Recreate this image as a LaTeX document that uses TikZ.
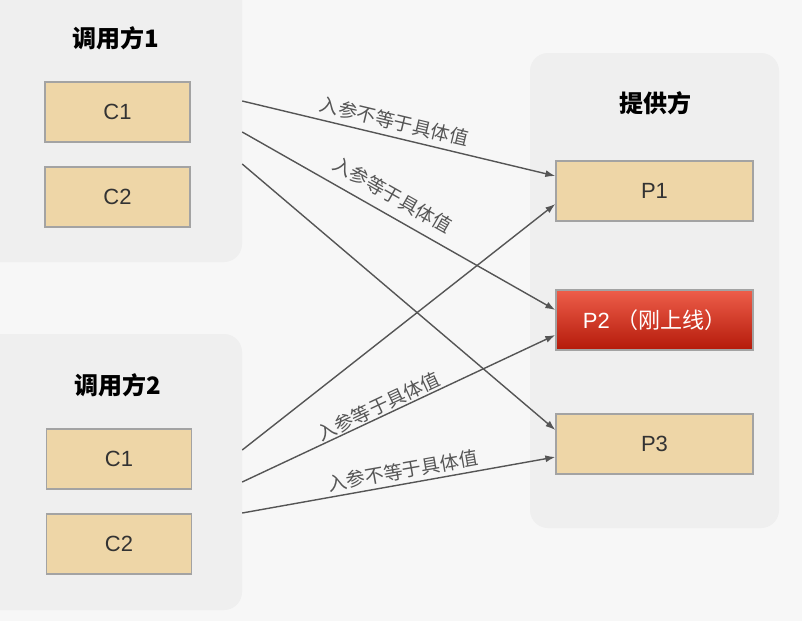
\documentclass[tikz,border=0pt]{standalone}
\usepackage{fontspec}
\setmainfont{Liberation Sans}
\newfontfamily\cjk{Noto Sans CJK SC}
\usepackage{tikz}
\usetikzlibrary{arrows.meta, positioning}
\definecolor{bgcol}{HTML}{F7F7F7}
\definecolor{groupcol}{HTML}{EFEFEF}
\definecolor{boxfill}{HTML}{EED6A7}
\definecolor{boxline}{HTML}{A3A3A3}
\definecolor{linecol}{HTML}{555555}
\definecolor{textcol}{HTML}{333333}
\definecolor{hottop}{HTML}{EE5E4A}
\definecolor{hotbottom}{HTML}{B41A0A}
\tikzstyle{group} =
[rectangle, rounded corners = 18pt, inner sep = 0pt, draw = none, fill = groupcol]
\tikzstyle{title} =
[font = \cjk\bfseries\fontsize{24}{26}\selectfont, text = black]
\tikzstyle{caller} =
[rectangle, minimum width = 145pt, minimum height = 60pt, inner sep = 0pt,
text centered, draw = boxline, line width = 1.3pt, fill = boxfill,
text = textcol, font = \fontsize{22}{24}\selectfont]
\tikzstyle{provider} =
[caller, minimum width = 197pt]
\tikzstyle{hot} =
[provider, top color = hottop, bottom color = hotbottom, text = white]
\tikzstyle{cond} =
[sloped, above, text = linecol, font = \cjk\fontsize{19}{21}\selectfont]
\tikzstyle{line} = [draw, -{Latex[length = 10pt, width = 7pt]}, line width = 1.4pt, linecol]

\begin{document}
\begin{tikzpicture}[x = 1pt, y = -1pt, node distance = 85pt]
  \fill [bgcol] (0,0) rectangle (802,621);
  \useasboundingbox (0,0) rectangle (802,621);
  % groups
  \node [group, minimum width = 262pt, minimum height = 282pt] (caller1) at (111,121) {};
  \node [group, minimum width = 262pt, minimum height = 276pt] (caller2) at (111,472) {};
  \node [group, minimum width = 249pt, minimum height = 475pt] (provider) at (654.5,290.5) {};
  \node [title] (t1) at (116,38) {调用方1};
  \node [title] (t2) at (118,385) {调用方2};
  \node [title] (t3) at (655,103) {提供方};
  % caller nodes
  \node [caller] (c11) at (117.5,112) {C1};
  \node [caller, below of=c11] (c12) {C2};
  \node [caller] (c21) at (119,459) {C1};
  \node [caller, below of=c21] (c22) {C2};
  % provider nodes
  \node [provider] (p1) at (654.5,191) {P1};
  \node [hot, below of=p1, node distance = 129pt] (p2) {P2 \cjk（刚上线）};
  \node [provider, below of=p2, node distance = 124pt] (p3) {P3};
  % connector ends on the group border
  \coordinate (s11) at ([yshift=20pt]caller1.east);
  \coordinate (s12) at ([yshift=-11pt]caller1.east);
  \coordinate (s13) at ([yshift=-43pt]caller1.east);
  \coordinate (s21) at ([yshift=22pt]caller2.east);
  \coordinate (s22) at ([yshift=-10pt]caller2.east);
  \coordinate (s23) at ([yshift=-41pt]caller2.east);
  % edges
  \path [line] (s11) -- node [cond, pos = 0.475, inner sep = 6pt] (l1) {入参不等于具体值} ([yshift=15pt]p1.west);
  \path [line] (s12) -- node [cond, pos = 0.45, inner sep = 10pt] (l2) {入参等于具体值} ([yshift=10pt]p2.west);
  \path [line] (s13) -- ([yshift=14pt]p3.west);
  \path [line] (s21) -- ([yshift=-13pt]p1.west);
  \path [line] (s22) -- node [cond, pos = 0.45, inner sep = 1pt] (l3) {入参等于具体值} ([yshift=-15pt]p2.west);
  \path [line] (s23) -- node [cond, pos = 0.52, inner sep = 4pt] (l4) {入参不等于具体值} ([yshift=-13pt]p3.west);
\end{tikzpicture}
\end{document}
